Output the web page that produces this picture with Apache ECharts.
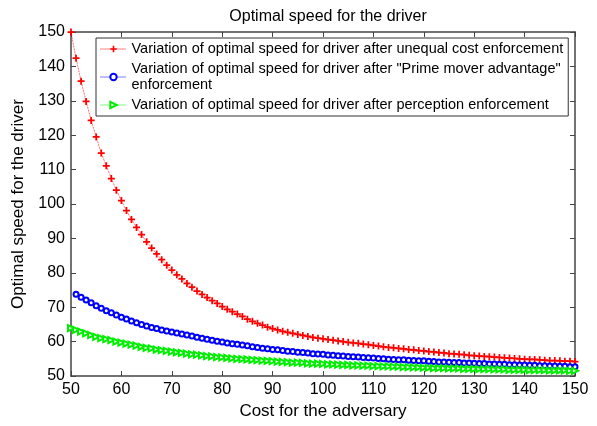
<!DOCTYPE html>
<html>
<head>
    <meta charset="utf-8">
    <script src="https://cdn.jsdelivr.net/npm/echarts@6/dist/echarts.min.js"></script>
    <title>Optimal speed for the driver</title>
</head>
<body style="margin:0;background:#fff;">
    <div id="main" style="width:597px;height:426px;"></div>
    <script type="text/javascript">
        // cost for the adversary (x)
        var cost = [50, 51, 52, 53, 54, 55, 56, 57, 58, 59,
            60, 61, 62, 63, 64, 65, 66, 67, 68, 69,
            70, 71, 72, 73, 74, 75, 76, 77, 78, 79,
            80, 81, 82, 83, 84, 85, 86, 87, 88, 89,
            90, 91, 92, 93, 94, 95, 96, 97, 98, 99,
            100, 101, 102, 103, 104, 105, 106, 107, 108, 109,
            110, 111, 112, 113, 114, 115, 116, 117, 118, 119,
            120, 121, 122, 123, 124, 125, 126, 127, 128, 129,
            130, 131, 132, 133, 134, 135, 136, 137, 138, 139,
            140, 141, 142, 143, 144, 145, 146, 147, 148, 149, 150];

        var unequalCost = [150, 142.4, 135.7, 129.8, 124.3, 119.5, 114.8, 111.1, 107.4, 104.0,
            101.0, 98.1, 95.5, 93.2, 91.1, 89.0, 87.2, 85.5, 83.8, 82.2,
            80.8, 79.4, 78.2, 76.9, 75.8, 74.7, 73.7, 72.8, 71.9, 71.1,
            70.2, 69.4, 68.7, 68.0, 67.3, 66.5, 65.9, 65.3, 64.8, 64.2,
            63.8, 63.4, 63.0, 62.7, 62.4, 62.1, 61.8, 61.5, 61.2, 61.0,
            60.8, 60.6, 60.4, 60.2, 60.0, 59.8, 59.6, 59.5, 59.3, 59.1,
            58.9, 58.7, 58.5, 58.3, 58.2, 58.0, 57.9, 57.7, 57.6, 57.4,
            57.3, 57.1, 57.0, 56.8, 56.7, 56.5, 56.4, 56.3, 56.2, 56.0,
            55.9, 55.8, 55.7, 55.6, 55.5, 55.4, 55.3, 55.2, 55.1, 55.0,
            54.9, 54.8, 54.8, 54.7, 54.6, 54.5, 54.5, 54.4, 54.3, 54.3, 54.2];

        var primeMover = [null, 73.8, 72.9, 72.1, 71.3, 70.4, 69.7, 69.0, 68.4, 67.7,
            67.1, 66.6, 66.0, 65.5, 65.0, 64.5, 64.1, 63.8, 63.4, 63.1,
            62.8, 62.5, 62.2, 61.9, 61.6, 61.3, 61.0, 60.7, 60.4, 60.1,
            59.9, 59.6, 59.4, 59.2, 59.0, 58.8, 58.5, 58.3, 58.1, 57.9,
            57.7, 57.6, 57.4, 57.2, 57.1, 56.9, 56.8, 56.7, 56.5, 56.4,
            56.3, 56.1, 56.0, 55.9, 55.8, 55.7, 55.6, 55.5, 55.4, 55.3,
            55.2, 55.1, 55.0, 54.9, 54.8, 54.7, 54.7, 54.6, 54.5, 54.4,
            54.4, 54.3, 54.2, 54.1, 54.1, 54.0, 53.9, 53.9, 53.8, 53.8,
            53.7, 53.6, 53.6, 53.5, 53.5, 53.4, 53.4, 53.3, 53.3, 53.2,
            53.2, 53.1, 53.1, 53.0, 53.0, 52.9, 52.9, 52.8, 52.8, 52.7, 52.7];

        var perception = [63.9, 63.4, 62.9, 62.4, 61.9, 61.4, 61.0, 60.7, 60.4, 60.0,
            59.7, 59.4, 59.1, 58.8, 58.5, 58.2, 58.0, 57.7, 57.5, 57.3,
            57.1, 56.9, 56.7, 56.5, 56.3, 56.2, 56.0, 55.8, 55.7, 55.5,
            55.4, 55.3, 55.1, 55.0, 54.9, 54.8, 54.7, 54.6, 54.5, 54.4,
            54.3, 54.2, 54.1, 54.0, 53.9, 53.9, 53.8, 53.7, 53.6, 53.6,
            53.5, 53.4, 53.4, 53.3, 53.2, 53.2, 53.1, 53.1, 53.0, 53.0,
            52.9, 52.9, 52.8, 52.8, 52.7, 52.7, 52.6, 52.6, 52.5, 52.5,
            52.4, 52.4, 52.3, 52.3, 52.3, 52.2, 52.2, 52.2, 52.1, 52.1,
            52.1, 52.0, 52.0, 52.0, 51.9, 51.9, 51.9, 51.8, 51.8, 51.8,
            51.8, 51.7, 51.7, 51.7, 51.7, 51.6, 51.6, 51.6, 51.6, 51.5, 51.5];

        var seriesNames = [
            'Variation of optimal speed for driver after unequal cost enforcement',
            'Variation of optimal speed for driver after "Prime mover advantage"\nenforcement',
            'Variation of optimal speed for driver after perception enforcement'
        ];

        function pairs(xs, ys) {
            var out = [];
            for (var i = 0; i < xs.length; i++) {
                if (ys[i] !== null) {
                    out.push([xs[i], ys[i]]);
                }
            }
            return out;
        }

        var font = 'Liberation Sans, Arial, sans-serif';
        var axisColor = '#444';

        function frameAxis(pos, showLabels) {
            return {
                type: 'value',
                position: pos,
                min: 50,
                max: 150,
                interval: 10,
                axisLine: { show: true, lineStyle: { color: axisColor, width: 1.5 } },
                axisTick: { show: true, inside: true, length: 5, lineStyle: { color: axisColor, width: 1 } },
                axisLabel: {
                    show: showLabels,
                    color: '#000',
                    fontSize: 16,
                    fontFamily: font,
                    margin: 6
                },
                splitLine: { show: false }
            };
        }

        var xBottom = frameAxis('bottom', true);
        xBottom.name = 'Cost for the adversary';
        xBottom.nameLocation = 'middle';
        xBottom.nameGap = 26;
        xBottom.nameTextStyle = { color: '#000', fontSize: 17, fontFamily: font };

        var yLeft = frameAxis('left', true);
        yLeft.name = 'Optimal speed for the driver';
        yLeft.nameLocation = 'middle';
        yLeft.nameGap = 44;
        yLeft.nameTextStyle = { color: '#000', fontSize: 17, fontFamily: font };

        var myChart = echarts.init(document.getElementById('main'), null, { renderer: 'canvas' });

        var option = {
            backgroundColor: '#fff',
            animation: false,
            title: {
                text: 'Optimal speed for the driver',
                left: 323,
                top: 4,
                textAlign: 'center',
                textStyle: { color: '#000', fontSize: 16, fontWeight: 'normal', fontFamily: font }
            },
            legend: {
                orient: 'vertical',
                left: 96,
                top: 38,
                padding: [3, 5, 3, 4],
                itemGap: 4,
                itemWidth: 26,
                itemHeight: 8,
                borderColor: '#333',
                borderWidth: 1,
                backgroundColor: '#fff',
                lineStyle: { width: 1, type: 'dotted' },
                data: seriesNames,
                textStyle: { color: '#000', fontSize: 14.5, fontFamily: font, lineHeight: 16 }
            },
            grid: {
                left: 71,
                right: 22,
                top: 32,
                bottom: 50
            },
            xAxis: [xBottom, frameAxis('top', false)],
            yAxis: [yLeft, frameAxis('right', false)],
            series: [{
                name: seriesNames[0],
                type: 'line',
                data: pairs(cost, unequalCost),
                symbol: 'path://M3,0h2v3h3v2h-3v3h-2v-3h-3v-2h3z',
                symbolSize: 7,
                showAllSymbol: true,
                itemStyle: { color: '#ff0000' },
                lineStyle: { color: '#ff0000', width: 0.8, type: 'dotted' }
            }, {
                name: seriesNames[1],
                type: 'line',
                data: pairs(cost, primeMover),
                symbol: 'emptyCircle',
                symbolSize: 5,
                showAllSymbol: true,
                itemStyle: { color: '#0000ff', borderWidth: 1.2 },
                lineStyle: { color: '#0000ff', width: 0.8, type: 'dotted' }
            }, {
                name: seriesNames[2],
                type: 'line',
                data: pairs(cost, perception),
                symbol: 'emptyTriangle',
                symbolRotate: -90,
                symbolSize: 6,
                showAllSymbol: true,
                itemStyle: { color: '#00ee00', borderWidth: 1.2 },
                lineStyle: { color: '#00ee00', width: 0.8, type: 'dotted' }
            }]
        };

        myChart.setOption(option);
    </script>
</body>
</html>
